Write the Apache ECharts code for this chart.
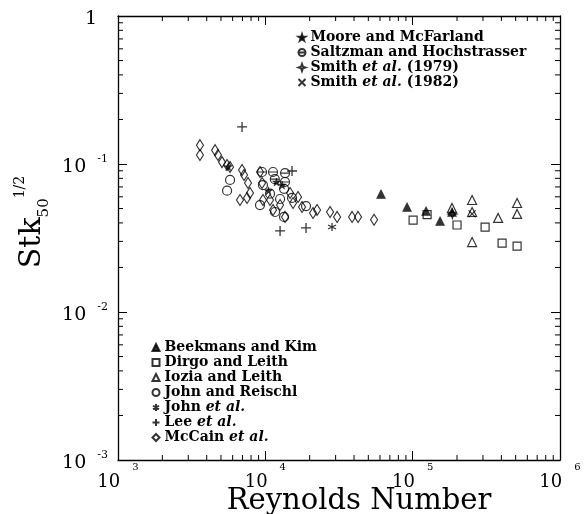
<!DOCTYPE html>
<html>
<head>
    <meta charset="utf-8">
    <title>Stk50 vs Reynolds Number</title>
    <script src="https://cdn.jsdelivr.net/npm/echarts@6/dist/echarts.min.js"></script>
    <style>
        html, body { margin: 0; padding: 0; background: #fff; }
        #chart { width: 587px; height: 514px; }
    </style>
</head>
<body>
<div id="chart"></div>
<script type="text/javascript">
    // data: [Reynolds number, Stk50^1/2]
    var moore = [[5600, 0.096], [11900, 0.0756], [13000, 0.072], [10500, 0.066]];
    var saltzman = [[9500, 0.0883], [11280, 0.0883], [13610, 0.0869], [11600, 0.079], [13600, 0.0756]];
    var smith1979 = [[186000, 0.046]];
    var smith1982 = [[253100, 0.046]];
    var beekmans = [[60990, 0.0627], [91600, 0.0512], [123300, 0.0481], [153500, 0.0412], [184900, 0.0474]];
    var dirgo = [[100700, 0.0418], [125300, 0.0455], [200000, 0.0387], [310200, 0.0375], [404600, 0.0292], [511400, 0.0279]];
    var iozia = [[184900, 0.0505], [253100, 0.0571], [253100, 0.0474], [253100, 0.0297], [380200, 0.0432], [511400, 0.0545], [511400, 0.046]];
    var johnReischl = [[5760, 0.078], [5500, 0.066], [9640, 0.072], [10760, 0.063], [11640, 0.0474], [13400, 0.0439],
        [9200, 0.0528], [12590, 0.058], [13400, 0.068], [15180, 0.059], [18890, 0.052]];
    var johnEtAl = [[28360, 0.0375]];
    var lee = [[6950, 0.178], [15180, 0.0897], [12590, 0.0353], [18890, 0.037]];
    var mccain = [[3600, 0.134], [3600, 0.115], [4560, 0.124], [4770, 0.115], [5080, 0.103], [5500, 0.0985],
        [5760, 0.0955], [6950, 0.091], [7170, 0.0843], [7630, 0.0744], [7870, 0.0637], [6730, 0.0571],
        [7510, 0.0589], [9200, 0.0883], [9640, 0.0571], [9500, 0.0744], [10760, 0.0571], [11280, 0.0489],
        [12590, 0.0528], [13610, 0.0439], [14720, 0.0637], [15420, 0.0545], [16670, 0.0598], [17750, 0.0512],
        [21070, 0.0467], [22440, 0.0489], [27500, 0.0474], [30700, 0.0439], [38800, 0.0439], [42600, 0.0439],
        [54700, 0.042]];

    var xMin = 1e3, xMax = 1e6, yMin = 1e-3, yMax = 1;
    var xDecades = [1e3, 1e4, 1e5];
    var yDecades = [1e-3, 1e-2, 1e-1];
    var multiples = [2, 3, 4, 5, 6, 7, 8, 9];

    var xMinor = [], yMinor = [];
    xDecades.forEach(function (d) { multiples.forEach(function (m) { xMinor.push([d * m, yMin]); }); });
    yDecades.forEach(function (d) { multiples.forEach(function (m) { yMinor.push([xMin, d * m]); }); });

    var FONT = 'DejaVu Serif';
    var minorLen = 5;

    // symbols
    var starPath = 'path://M5,0L6.2,3.6L10,3.6L7,5.9L8.1,9.5L5,7.3L1.9,9.5L3,5.9L0,3.6L3.8,3.6Z';
    var plusPath = 'path://M0,5L10,5M5,0L5,10';
    var crossPath = 'path://M0,0L10,10M10,0L0,10';
    var asteriskPath = 'path://M5,0L5,10M0.7,2.5L9.3,7.5M9.3,2.5L0.7,7.5';
    var barCirclePath = 'path://M0,5A5,5,0,1,1,10,5A5,5,0,1,1,0,5ZM0,5L10,5';
    var sparklePath = 'path://M5,0L6.3,3.7L10,5L6.3,6.3L5,10L3.7,6.3L0,5L3.7,3.7Z';

    var hollow = { color: 'rgba(255,255,255,0)', borderColor: '#000', borderWidth: 1.2 };
    var filled = { color: '#000', borderColor: '#000', borderWidth: 0.5 };
    var lines = { color: 'none', borderColor: '#000', borderWidth: 1.3 };

    function scatter(name, data, symbol, size, style) {
        return {
            name: name, type: 'scatter', data: data, symbol: symbol, symbolSize: size,
            itemStyle: style, emphasis: { disabled: true }, z: 3
        };
    }

    function xTickItem(params, api) {
        var b = api.coord([api.value(0), yMin]);
        var t = api.coord([api.value(0), yMax]);
        return {
            type: 'group', children: [
                { type: 'line', shape: { x1: b[0], y1: b[1], x2: b[0], y2: b[1] - minorLen }, style: { stroke: '#000', lineWidth: 1 } },
                { type: 'line', shape: { x1: t[0], y1: t[1], x2: t[0], y2: t[1] + minorLen }, style: { stroke: '#000', lineWidth: 1 } }
            ]
        };
    }

    function yTickItem(params, api) {
        var l = api.coord([xMin, api.value(1)]);
        var r = api.coord([xMax, api.value(1)]);
        return {
            type: 'group', children: [
                { type: 'line', shape: { x1: l[0], y1: l[1], x2: l[0] + minorLen, y2: l[1] }, style: { stroke: '#000', lineWidth: 1 } },
                { type: 'line', shape: { x1: r[0], y1: r[1], x2: r[0] - minorLen, y2: r[1] }, style: { stroke: '#000', lineWidth: 1 } }
            ]
        };
    }

    function powLabel(v) {
        var e = Math.round(Math.log(v) / Math.LN10);
        if (e === 0) return '{b|1}{g| }';
        return '{b|10}{g| }{e|' + e + '}';
    }

    var xLabelRich = {
        b: { fontFamily: FONT, fontSize: 18, color: '#000', lineHeight: 40 },
        g: { fontSize: 10, width: 12 },
        e: { fontFamily: FONT, fontSize: 10, color: '#000', lineHeight: 10, verticalAlign: 'top' }
    };
    var yLabelRich = {
        b: { fontFamily: FONT, fontSize: 19, color: '#000', lineHeight: 26 },
        g: { fontSize: 10, width: 11 },
        e: { fontFamily: FONT, fontSize: 11, color: '#000', lineHeight: 10, verticalAlign: 'top' }
    };

    var legendRich = {
        i: { fontFamily: FONT, fontSize: 14, fontWeight: 'bold', fontStyle: 'italic', color: '#000' }
    };

    function legendFmt(name) {
        return name.replace('et al.', '{i|et al.}');
    }

    var legendBase = {
        orient: 'vertical', padding: 0, itemGap: 0, itemWidth: 7, itemHeight: 7,
        selectedMode: false, formatter: legendFmt,
        textStyle: { fontFamily: FONT, fontSize: 14, fontWeight: 'bold', color: '#000', lineHeight: 15, rich: legendRich }
    };

    var axisLine = { show: true, lineStyle: { color: '#000', width: 1.3 } };
    var majorTick = { show: true, inside: true, length: 9, lineStyle: { color: '#000', width: 1 } };

    var chart = echarts.init(document.getElementById('chart'), null, { renderer: 'canvas' });
    chart.setOption({
        backgroundColor: '#fff',
        animation: false,
        grid: { left: 118, right: 27, top: 16, bottom: 54, outerBoundsMode: 'none', containLabel: false },
        legend: [
            Object.assign({}, legendBase, {
                left: 296, top: 30,
                data: ['Moore and McFarland', 'Saltzman and Hochstrasser', 'Smith et al. (1979)', 'Smith et al. (1982)']
            }),
            Object.assign({}, legendBase, {
                left: 150, top: 340,
                data: ['Beekmans and Kim', 'Dirgo and Leith', 'Iozia and Leith', 'John and Reischl', 'John et al.', 'Lee et al.', 'McCain et al.']
            })
        ],
        xAxis: [{
            type: 'log', logBase: 10, min: xMin, max: xMax, position: 'bottom',
            axisLine: axisLine, axisTick: majorTick, splitLine: { show: false },
            axisLabel: { formatter: powLabel, rich: xLabelRich, margin: 2 },
            name: 'Reynolds Number', nameLocation: 'middle', nameGap: 27, nameMoveOverlap: false,
            nameTextStyle: { fontFamily: FONT, fontSize: 29, color: '#000', padding: [0, 0, 0, 40] }
        }, {
            type: 'log', logBase: 10, min: xMin, max: xMax, position: 'top',
            axisLine: axisLine, axisTick: majorTick, splitLine: { show: false }, axisLabel: { show: false }
        }],
        yAxis: [{
            type: 'log', logBase: 10, min: yMin, max: yMax, position: 'left',
            axisLine: axisLine, axisTick: majorTick, splitLine: { show: false },
            axisLabel: { formatter: powLabel, rich: yLabelRich, margin: 10, padding: [6, 0, 0, 0] },
            name: '{m|Stk}{sub|50}{sup|1/2}', nameLocation: 'middle', nameGap: 64, nameRotate: 90,
            nameTextStyle: {
                padding: [0, 0, 0, 32],
                rich: {
                    m: { fontFamily: FONT, fontSize: 30, color: '#000', lineHeight: 38 },
                    sub: { fontFamily: FONT, fontSize: 15, color: '#000', lineHeight: 15, verticalAlign: 'bottom' },
                    sup: { fontFamily: FONT, fontSize: 14, color: '#000', lineHeight: 14, verticalAlign: 'top' }
                }
            }
        }, {
            type: 'log', logBase: 10, min: yMin, max: yMax, position: 'right',
            axisLine: axisLine, axisTick: majorTick, splitLine: { show: false }, axisLabel: { show: false }
        }],
        series: [
            scatter('Moore and McFarland', moore, starPath, 8, filled),
            scatter('Saltzman and Hochstrasser', saltzman, barCirclePath, 9, hollow),
            scatter('Smith et al. (1979)', smith1979, sparklePath, 9, hollow),
            scatter('Smith et al. (1982)', smith1982, crossPath, 7, lines),
            scatter('Beekmans and Kim', beekmans, 'triangle', 9, filled),
            scatter('Dirgo and Leith', dirgo, 'rect', 8, hollow),
            scatter('Iozia and Leith', iozia, 'triangle', 9, hollow),
            scatter('John and Reischl', johnReischl, 'circle', 9, hollow),
            scatter('John et al.', johnEtAl, asteriskPath, 8, lines),
            scatter('Lee et al.', lee, plusPath, 10, lines),
            scatter('McCain et al.', mccain, 'diamond', [7, 11], hollow),
            {
                type: 'custom', renderItem: xTickItem, data: xMinor, silent: true, z: 2,
                xAxisIndex: 0, yAxisIndex: 0
            },
            {
                type: 'custom', renderItem: yTickItem, data: yMinor, silent: true, z: 2,
                xAxisIndex: 0, yAxisIndex: 0
            }
        ]
    });
</script>
</body>
</html>
